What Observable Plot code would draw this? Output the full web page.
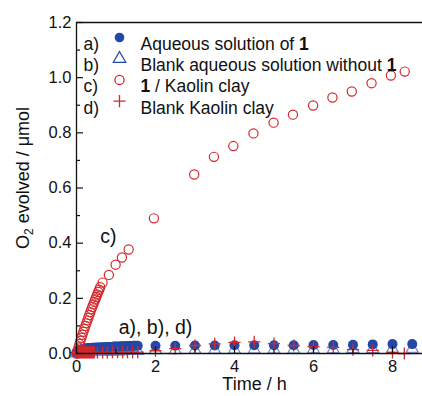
<!DOCTYPE html>
<html><head><meta charset="utf-8">
<script src="https://cdn.jsdelivr.net/npm/d3@7"></script>
<script src="https://cdn.jsdelivr.net/npm/@observablehq/plot@0.6"></script>
<style>
body{margin:0;background:#fff}
#chart{font-family:"Liberation Sans",Arial,Helvetica,sans-serif}
</style>
</head><body><div id="chart"></div>
<script>
// ---- data ----
// a) Aqueous solution of 1
const timeA = [0,0.05,0.1,0.15,0.2,0.25,0.3,0.35,0.4,0.45,0.5,0.55,0.6,0.65,0.7,0.75,0.8,0.85,0.9,0.95,1.0,1.05,1.1,1.15,1.2,1.25,1.3,1.35,1.4,1.45,1.5,1.55,2,2.5,3,3.5,4,4.5,5,5.5,6,6.5,7,7.5,8,8.5];
const valueA = [0.004,0.010,0.014,0.016,0.018,0.019,0.020,0.020,0.021,0.021,0.022,0.022,0.022,0.023,0.023,0.023,0.024,0.024,0.024,0.025,0.025,0.025,0.025,0.026,0.026,0.026,0.027,0.027,0.027,0.028,0.028,0.028,0.028,0.028,0.029,0.029,0.030,0.030,0.030,0.030,0.031,0.031,0.032,0.033,0.034,0.034];
// b) Blank aqueous solution without 1
const timeB = [0,0.05,0.1,0.15,0.2,0.25,0.3,0.35,0.4,0.45,0.5,0.55,0.6,0.65,0.7,0.75,0.8,0.85,0.9,0.95,1.0,1.05,1.1,1.15,1.2,1.25,1.3,1.35,1.4,1.45,1.5,1.55,2,2.5,3,3.5,4,4.5,5,5.5,6,6.5,7,7.5,8,8.5];
const valueB = [0.000,0.002,0.003,0.004,0.004,0.005,0.005,0.005,0.006,0.006,0.006,0.006,0.007,0.007,0.007,0.007,0.007,0.008,0.008,0.008,0.008,0.008,0.008,0.008,0.009,0.009,0.009,0.009,0.009,0.009,0.009,0.009,0.012,0.012,0.013,0.013,0.014,0.014,0.014,0.014,0.015,0.015,0.016,0.016,0.017,0.017];
// c) 1 / Kaolin clay
const timeC = [0,0.025,0.05,0.075,0.1,0.125,0.15,0.175,0.2,0.225,0.25,0.275,0.3,0.325,0.35,0.375,0.4,0.425,0.45,0.475,0.5,0.525,0.55,0.575,0.6,0.66,0.82,0.99,1.15,1.32,1.96,2.98,3.48,3.97,4.48,4.99,5.48,5.99,6.48,6.97,7.47,7.96,8.31];
const valueC = [0.000,0.010,0.022,0.034,0.046,0.057,0.068,0.079,0.090,0.100,0.110,0.120,0.130,0.140,0.150,0.160,0.169,0.178,0.187,0.196,0.205,0.214,0.223,0.231,0.240,0.257,0.285,0.322,0.348,0.377,0.490,0.649,0.713,0.752,0.798,0.837,0.866,0.899,0.928,0.950,0.980,1.008,1.022];
// d) Blank Kaolin clay
const timeD = [0,0.025,0.05,0.075,0.1,0.125,0.15,0.175,0.2,0.225,0.25,0.275,0.3,0.325,0.35,0.375,0.4,0.425,0.45,0.53,0.66,0.78,0.91,1.04,1.17,1.29,1.42,1.55,2,2.5,3,3.5,4,4.5,5,5.5,6,6.5,7,7.5,8,8.3];
const valueD = [0.003,0.003,0.004,0.004,0.004,0.004,0.004,0.004,0.004,0.004,0.004,0.004,0.004,0.004,0.004,0.004,0.004,0.004,0.004,0.004,0.004,0.004,0.005,0.005,0.005,0.005,0.005,0.005,0.010,0.018,0.029,0.035,0.040,0.042,0.036,0.029,0.025,0.022,0.014,0.011,0.004,0.000];

const yTicks = [0,0.2,0.4,0.6,0.8,1.0,1.2];
const yMinor = [0.1,0.3,0.5,0.7,0.9,1.1];
const xTicks = [0,2,4,6,8];
const xMinor = [1,3,5,7];

const legendKeys = ["a)","b)","c)","d)"];
const legendLabels = ["Aqueous solution of 1","Blank aqueous solution without 1","1 / Kaolin clay","Blank Kaolin clay"];
const annotations = [{label:"c)", t:0.81, v:0.424},{label:"a), b), d)", t:2.0, v:0.094}];

const xLabel = "Time / h";
const yLabel = "O2 evolved / μmol";

const blue = "#2347a6", paleBlue = "#6d88c9", red = "#d3282c";

// ---- build ----
const zip = (ts, vs) => ts.map((t,i)=>({t, v: vs[i]}));
const dataA = zip(timeA, valueA), dataB = zip(timeB, valueB), dataC = zip(timeC, valueC), dataD = zip(timeD, valueD);

const legendStyles = [
  {symbol:"circle", fill:blue, stroke:"none", r:4.8},
  {symbol:"triangle", fill:"none", stroke:blue, r:4.6},
  {symbol:"circle", fill:"none", stroke:red, r:4.6},
  {symbol:"plus", fill:"none", stroke:red, r:4.0}
];
const rowGap = 21.2;
const legendFont = 17.5;
const legendMarks = [];
legendKeys.forEach((k,i)=>{
  const dy = 15 + i*rowGap;
  legendMarks.push(Plot.text([k], {frameAnchor:"top-left", text:d=>d, dx:7, dy, textAnchor:"start", fontSize:legendFont, fill:"#111"}));
  legendMarks.push(Plot.dot([k], {frameAnchor:"top-left", dx:43, dy, strokeWidth:1.3, ...legendStyles[i]}));
  legendMarks.push(Plot.text([legendLabels[i]], {frameAnchor:"top-left", text:d=>d, dx:64, dy, textAnchor:"start", fontSize:legendFont, fill:"#111"}));
});

const chart = Plot.plot({
  width: 422, height: 396,
  marginLeft: 76, marginRight: 0, marginTop: 22, marginBottom: 43,
  style: {fontFamily: '"Liberation Sans", Arial, sans-serif', fontSize: "16px", background: "#fff", color: "#111"},
  x: {domain: [0, 8.76]},
  y: {domain: [0, 1.2]},
  marks: [
    Plot.dot(dataB, {x:"t", y:"v", symbol:"triangle", r:4.4, stroke:paleBlue, strokeWidth:1.2, fill:"#fff"}),
    Plot.dot(dataA, {x:"t", y:"v", r:5.0, fill:blue}),
    Plot.dot(dataD, {x:"t", y:"v", symbol:"plus", r:4.0, stroke:red, strokeWidth:1.3, fill:"none"}),
    Plot.dot(dataC, {x:"t", y:"v", r:4.6, stroke:red, strokeWidth:1.2, fill:"none"}),
    Plot.ruleY([0, 1.2], {stroke:"#111", strokeWidth:1.3}),
    Plot.ruleX([0], {stroke:"#111", strokeWidth:1.3}),
    Plot.axisY(yTicks, {anchor:"left", tickSize:-7, tickFormat:()=>"", label:null, strokeWidth:1.2}),
    Plot.axisY(yMinor, {anchor:"left", tickSize:-4, tickFormat:()=>"", label:null, strokeWidth:1.2}),
    Plot.axisY(yTicks, {anchor:"left", tickSize:0, tickPadding:5, tickFormat:d=>d.toFixed(1), label:null, fontSize:16.5}),
    Plot.axisX(xTicks, {anchor:"bottom", tickSize:-7, tickFormat:()=>"", label:null, strokeWidth:1.2}),
    Plot.axisX(xMinor, {anchor:"bottom", tickSize:-4, tickFormat:()=>"", label:null, strokeWidth:1.2}),
    Plot.axisX(xTicks, {anchor:"bottom", tickSize:0, tickPadding:7, tickFormat:d=>String(d), label:null, fontSize:16.5}),
    Plot.text([xLabel], {frameAnchor:"bottom", text:d=>d, dx:5, dy:36, fontSize:18, fill:"#111"}),
    Plot.text([yLabel], {frameAnchor:"left", text:d=>d, dx:-53, dy:-10, rotate:-90, textAnchor:"middle", fontSize:18, fill:"#111"}),
    Plot.text(annotations, {x:"t", y:"v", text:"label", fontSize:19.5, fill:"#111"}),
    ...legendMarks
  ]
});
document.getElementById("chart").appendChild(chart);

// rich text: bold "1" in legend, subscript "2" in y label
d3.select(chart).selectAll("text").each(function(){
  const s = this.textContent;
  const el = d3.select(this);
  if (legendLabels.includes(s)) {
    const parts = s.split(/(\b1\b)/);
    el.text(null);
    parts.forEach(p => { if (p !== "") el.append("tspan").text(p).attr("font-weight", p === "1" ? "bold" : null); });
  } else if (s === yLabel) {
    el.text(null).attr("text-anchor", "middle");
    el.append("tspan").text("O");
    el.append("tspan").text("2").attr("font-size", 12).attr("baseline-shift", "-30%");
    el.append("tspan").text(" evolved / μmol");
  }
});
</script>
</body></html>
